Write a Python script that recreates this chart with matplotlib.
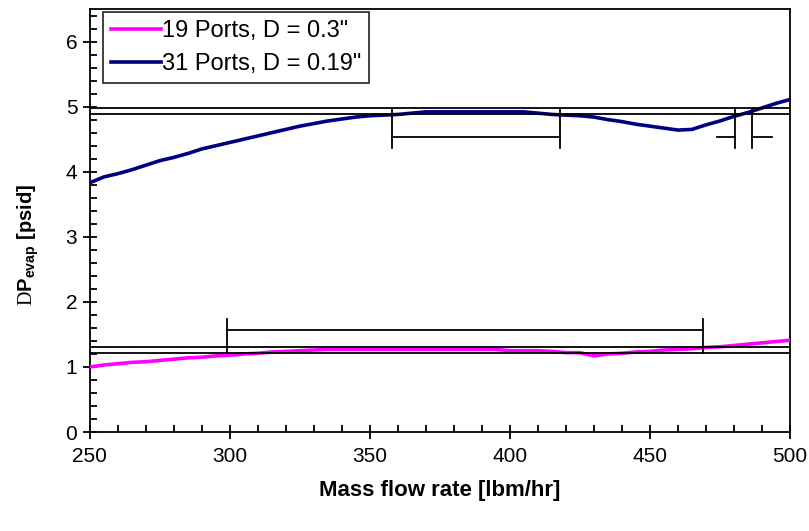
import matplotlib
matplotlib.use("Agg")
import matplotlib.pyplot as plt
from matplotlib.ticker import MultipleLocator

plt.rcParams['font.family'] = ['Liberation Sans', 'DejaVu Sans']
plt.rcParams['mathtext.fontset'] = 'custom'
plt.rcParams['mathtext.rm'] = 'Liberation Serif'
plt.rcParams['mathtext.bf'] = 'Liberation Sans:bold'

# Data
mass_flow = [250, 255, 260, 265, 270, 275, 280, 285, 290, 295, 300, 305, 310, 315, 320,
             325, 330, 335, 340, 345, 350, 355, 360, 365, 370, 375, 380, 385, 390, 395,
             400, 405, 410, 415, 420, 425, 430, 435, 440, 445, 450, 455, 460, 465, 470,
             475, 480, 485, 490, 495, 500]
dp_19 = [1.00, 1.03, 1.05, 1.07, 1.08, 1.10, 1.12, 1.14, 1.15, 1.17, 1.18, 1.20, 1.21, 1.23, 1.24,
         1.25, 1.26, 1.27, 1.27, 1.27, 1.27, 1.27, 1.27, 1.27, 1.27, 1.27, 1.27, 1.27, 1.27, 1.27,
         1.25, 1.25, 1.25, 1.24, 1.22, 1.22, 1.17, 1.20, 1.21, 1.23, 1.24, 1.26, 1.27, 1.28, 1.30,
         1.31, 1.33, 1.35, 1.37, 1.39, 1.41]
dp_31 = [3.83, 3.92, 3.97, 4.03, 4.10, 4.17, 4.22, 4.28, 4.35, 4.40, 4.45, 4.50, 4.55, 4.60, 4.65,
         4.70, 4.74, 4.78, 4.81, 4.84, 4.86, 4.87, 4.88, 4.90, 4.92, 4.92, 4.92, 4.92, 4.92, 4.92,
         4.92, 4.92, 4.90, 4.88, 4.87, 4.86, 4.84, 4.80, 4.77, 4.73, 4.70, 4.67, 4.64, 4.65, 4.72,
         4.78, 4.85, 4.91, 4.98, 5.05, 5.11]
series_labels = ['19 Ports, D = 0.3"', '31 Ports, D = 0.19"']

# reference bands
band_31 = [4.89, 4.98]
band_19 = [1.21, 1.30]

# bracket annotations (x positions)
bracket_31_x = [358, 418]
bracket_31b_x = [480.5, 486.3]
bracket_31b_tails = [474, 493.5]
bracket_31_y = [4.37, 4.53]
bracket_19_x = [299, 469]
bracket_19_y = [1.74, 1.57]

fig = plt.figure(figsize=(8.09, 5.31), dpi=100)
ax = fig.add_axes([0.111, 0.1864, 0.8655, 0.7966])

ax.plot(mass_flow, dp_19, color='#ff00ff', lw=2.6, label=series_labels[0], zorder=3)
ax.plot(mass_flow, dp_31, color='#000080', lw=2.6, label=series_labels[1], zorder=3)

lk = dict(color='black', lw=1.3, zorder=4)
for yv in band_31 + band_19:
    ax.axhline(yv, **lk)

# 31 ports brackets
for xv in bracket_31_x + bracket_31b_x:
    ax.plot([xv, xv], [band_31[1], bracket_31_y[0]], **lk)
ax.plot(bracket_31_x, [bracket_31_y[1]] * 2, **lk)
ax.plot([bracket_31b_tails[0], bracket_31b_x[0]], [bracket_31_y[1]] * 2, **lk)
ax.plot([bracket_31b_x[1], bracket_31b_tails[1]], [bracket_31_y[1]] * 2, **lk)

# 19 ports bracket
for xv in bracket_19_x:
    ax.plot([xv, xv], [bracket_19_y[0], band_19[0]], **lk)
ax.plot(bracket_19_x, [bracket_19_y[1]] * 2, **lk)

ax.set_xlim(250, 500)
ax.set_ylim(0, 6.5)
ax.xaxis.set_major_locator(MultipleLocator(50))
ax.xaxis.set_minor_locator(MultipleLocator(10))
ax.yaxis.set_major_locator(MultipleLocator(1))
ax.yaxis.set_minor_locator(MultipleLocator(0.2))
ax.tick_params(which='major', direction='inout', length=10, width=1.3, labelsize=15)
ax.tick_params(which='minor', direction='in', length=5, width=1.3)
ax.tick_params(axis='x', which='major', pad=6)
ax.tick_params(axis='y', which='major', pad=4)
ax.tick_params(right=False, top=False)
ax.tick_params(which='minor', right=False, top=False)
for s in ax.spines.values():
    s.set_linewidth(1.3)

ax.set_xlabel('Mass flow rate [lbm/hr]', fontsize=16, fontweight='bold', labelpad=10)
ax.set_ylabel(r'$\mathrm{D}\mathbf{P_{evap}}$ [psid]', fontsize=14.5, fontweight='bold')
ax.yaxis.set_label_coords(-0.069, 0.443)

leg = ax.legend(loc='upper left', bbox_to_anchor=(0.0186, 0.993), fontsize=17, frameon=True,
                fancybox=False, edgecolor='black', handlelength=2.1, handletextpad=0.05,
                borderpad=0.35, labelspacing=0.45, borderaxespad=0.0)
leg.get_frame().set_linewidth(1.3)

fig.savefig('out.png', dpi=100)
